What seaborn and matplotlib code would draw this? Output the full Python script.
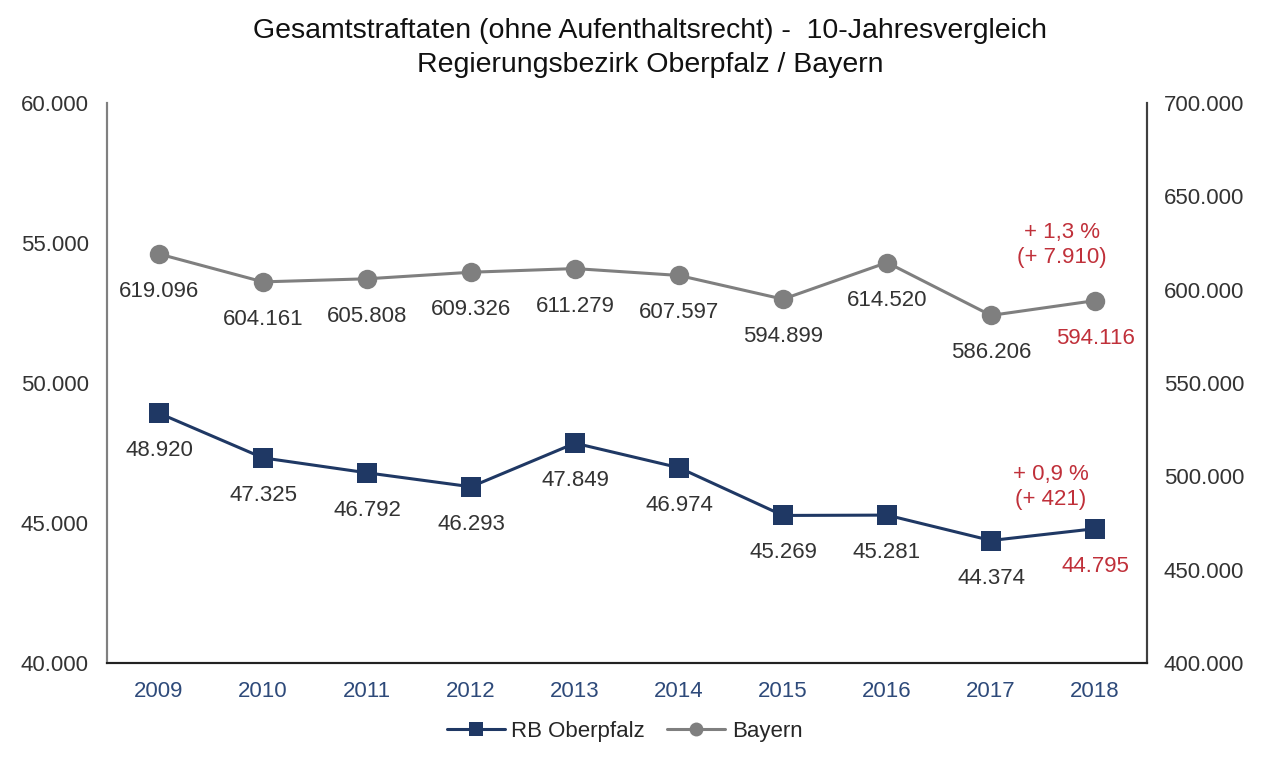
import matplotlib.pyplot as plt
import seaborn as sns
import numpy as np
import pandas as pd
from matplotlib.lines import Line2D

# chart data
years = ['2009', '2010', '2011', '2012', '2013', '2014', '2015', '2016', '2017', '2018']
oberpfalz = [48920, 47325, 46792, 46293, 47849, 46974, 45269, 45281, 44374, 44795]
bayern = [619096, 604161, 605808, 609326, 611279, 607597, 594899, 614520, 586206, 594116]
note_oberpfalz = '+ 0,9 %\n(+ 421)'
note_bayern = '+ 1,3 %\n(+ 7.910)'

navy = '#1F3864'
grey = '#7F7F7F'
red = '#C0303A'
text_col = '#333333'


def fmt(v):
    return '{:,}'.format(int(v)).replace(',', '.')


sns.set_style('white')
plt.rcParams['font.family'] = ['Liberation Sans', 'DejaVu Sans']

df = pd.DataFrame({'Jahr': years, 'RB Oberpfalz': oberpfalz, 'Bayern': bayern})

fig = plt.figure(figsize=(12.8, 7.61), dpi=100)
ax = fig.add_axes([0.0836, 0.1288, 0.8125, 0.7359])
ax2 = ax.twinx()

sns.lineplot(data=df, x='Jahr', y='RB Oberpfalz', ax=ax, color=navy, lw=2.2,
             marker='s', markersize=14, markeredgewidth=0, sort=False)
sns.lineplot(data=df, x='Jahr', y='Bayern', ax=ax2, color=grey, lw=2.2,
             marker='o', markersize=14, markeredgewidth=0, sort=False)

fs = 16
ax.set_xlim(-0.5, len(years) - 0.5)
ax.set_ylim(40000, 60000)
ax.set_yticks(np.arange(40000, 60001, 5000))
ax2.set_ylim(400000, 700000)
ax2.set_yticks(np.arange(400000, 700001, 50000))
ax.set_yticklabels([fmt(v) for v in ax.get_yticks()], fontsize=fs, color=text_col)
ax2.set_yticklabels([fmt(v) for v in ax2.get_yticks()], fontsize=fs, color=text_col)
ax.set_xticks(range(len(years)))
ax.set_xticklabels(years, fontsize=fs, color='#2E4A7A')
ax.set_xlabel('')
ax.set_ylabel('')
ax2.set_ylabel('')
ax.tick_params(axis='both', length=0, pad=13)
ax2.tick_params(axis='y', length=0, pad=12)

for a in (ax, ax2):
    a.spines['top'].set_visible(False)
    a.spines['left'].set_color('#808080')
    a.spines['right'].set_color('#404040')
    a.spines['bottom'].set_color('#222222')
    a.spines['left'].set_linewidth(1.5)
    a.spines['right'].set_linewidth(1.5)
    a.spines['bottom'].set_linewidth(1.5)
    a.grid(False)

# value labels
last = len(years) - 1
for i, v in enumerate(oberpfalz):
    ax.annotate(fmt(v), (i, v), xytext=(0, -27), textcoords='offset points',
                ha='center', va='center', fontsize=fs,
                color=red if i == last else text_col)
for i, v in enumerate(bayern):
    ax2.annotate(fmt(v), (i, v), xytext=(0, -27), textcoords='offset points',
                 ha='center', va='center', fontsize=fs,
                 color=red if i == last else text_col)

ax.annotate(note_oberpfalz, (last, oberpfalz[-1]), xytext=(-32, 30), textcoords='offset points',
            ha='center', va='center', fontsize=fs, color=red, linespacing=1.3)
ax2.annotate(note_bayern, (last, bayern[-1]), xytext=(-24, 40), textcoords='offset points',
             ha='center', va='center', fontsize=fs, color=red, linespacing=1.3)

fig.suptitle('Gesamtstraftaten (ohne Aufenthaltsrecht) -  10-Jahresvergleich\nRegierungsbezirk Oberpfalz / Bayern',
             x=0.508, y=0.977, fontsize=20.5, color='#111111', linespacing=1.4)

handles = [Line2D([], [], color=navy, lw=2.2, marker='s', markersize=10, markeredgewidth=0),
           Line2D([], [], color=grey, lw=2.2, marker='o', markersize=10, markeredgewidth=0)]
fig.legend(handles, ['RB Oberpfalz', 'Bayern'], loc='center', bbox_to_anchor=(0.488, 0.039),
           ncol=2, frameon=False, fontsize=fs, handlelength=2.6, columnspacing=1.0,
           handletextpad=0.3)

fig.savefig('out.png', dpi=100)
